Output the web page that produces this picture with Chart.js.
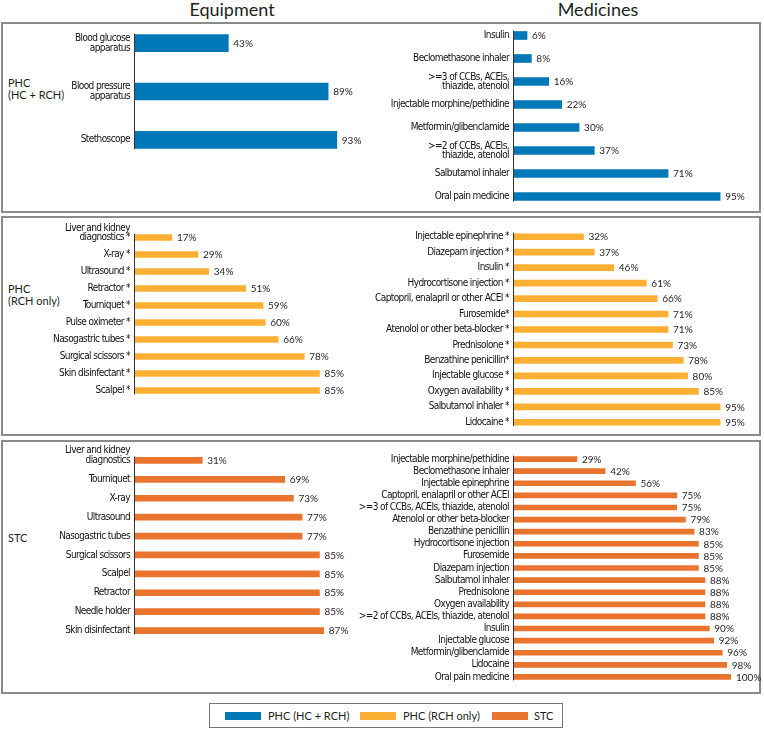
<!DOCTYPE html>
<html>
<head>
<meta charset="utf-8">
<script src="https://cdn.jsdelivr.net/npm/chart.js@4.4.1/dist/chart.umd.min.js"></script>
<style>
  body { margin: 0; width: 764px; height: 729px; position: relative; background: #fff; overflow: hidden;
         font-family: Lato, "Noto Sans", sans-serif; color: #231f20; }
  .box { position: absolute; left: 1px; width: 760px; border: 2px solid #8a8a8a; box-sizing: border-box; }
  .title { position: absolute; top: -2px; font-size: 18px; width: 200px; text-align: center; }
  .row { position: absolute; left: 8px; font-size: 11px; line-height: 12px; }
  canvas { position: absolute; }
  .legend { position: absolute; left: 209px; top: 703px; width: 354px; height: 25px; border: 1px solid #777;
            box-sizing: border-box; font-size: 11px; }
  .legend span { position: absolute; top: 5px; line-height: 13px; }
  .legend i { position: absolute; top: 8px; width: 36px; height: 8px; }
</style>
</head>
<body>
<div class="title" style="left:132px">Equipment</div>
<div class="title" style="left:498px">Medicines</div>

<div class="box" style="top:22px;height:191px"></div>
<div class="box" style="top:216px;height:220px"></div>
<div class="box" style="top:440px;height:254px"></div>

<div class="row" style="top:77px">PHC<br>(HC + RCH)</div>
<div class="row" style="top:283px">PHC<br>(RCH only)</div>
<div class="row" style="top:532px">STC</div>

<canvas id="eqHc" width="375" height="157" style="left:0;top:7px"></canvas>
<canvas id="medHc" width="424" height="196" style="left:340px;top:12px"></canvas>
<canvas id="eqRch" width="375" height="182" style="left:0;top:217px"></canvas>
<canvas id="medRch" width="424" height="213" style="left:340px;top:217px"></canvas>
<canvas id="eqStc" width="375" height="201" style="left:0;top:439px"></canvas>
<canvas id="medStc" width="424" height="242" style="left:340px;top:441px"></canvas>

<div class="legend">
  <i style="left:15px;background:#0077b6"></i><span style="left:58px">PHC (HC + RCH)</span>
  <i style="left:150px;background:#fbb034"></i><span style="left:193px">PHC (RCH only)</span>
  <i style="left:282px;background:#e8742f"></i><span style="left:324px">STC</span>
</div>

<script>
const BLUE = '#0077b6';
const YELLOW = '#fbb034';
const ORANGE = '#e8742f';

// PHC (HC + RCH)
const eqHcLabels = [["Blood glucose", "apparatus"], ["Blood pressure", "apparatus"], "Stethoscope"];
const eqHcValues = [43, 89, 93];
const medHcLabels = ["Insulin", "Beclomethasone inhaler", [">=3 of CCBs, ACEIs,", "thiazide, atenolol"],
  "Injectable morphine/pethidine", "Metformin/glibenclamide", [">=2 of CCBs, ACEIs,", "thiazide, atenolol"],
  "Salbutamol inhaler", "Oral pain medicine"];
const medHcValues = [6, 8, 16, 22, 30, 37, 71, 95];

// PHC (RCH only)
const eqRchLabels = [["Liver and kidney", "diagnostics *", ""], "X-ray *", "Ultrasound *", "Retractor *", "Tourniquet *",
  "Pulse oximeter *", "Nasogastric tubes *", "Surgical scissors *", "Skin disinfectant *", "Scalpel *"];
const eqRchValues = [17, 29, 34, 51, 59, 60, 66, 78, 85, 85];
const medRchLabels = ["Injectable epinephrine *", "Diazepam injection *", "Insulin *", "Hydrocortisone injection *",
  "Captopril, enalapril or other ACEI *", "Furosemide*", "Atenolol or other beta-blocker *", "Prednisolone *",
  "Benzathine penicillin*", "Injectable glucose *", "Oxygen availability *", "Salbutamol inhaler *", "Lidocaine *"];
const medRchValues = [32, 37, 46, 61, 66, 71, 71, 73, 78, 80, 85, 95, 95];

// STC
const eqStcLabels = [["Liver and kidney", "diagnostics", ""], "Tourniquet", "X-ray", "Ultrasound", "Nasogastric tubes",
  "Surgical scissors", "Scalpel", "Retractor", "Needle holder", "Skin disinfectant"];
const eqStcValues = [31, 69, 73, 77, 77, 85, 85, 85, 85, 87];
const medStcLabels = ["Injectable morphine/pethidine", "Beclomethasone inhaler", "Injectable epinephrine",
  "Captopril, enalapril or other ACEI", ">=3 of CCBs, ACEIs, thiazide, atenolol", "Atenolol or other beta-blocker",
  "Benzathine penicillin", "Hydrocortisone injection", "Furosemide", "Diazepam injection", "Salbutamol inhaler",
  "Prednisolone", "Oxygen availability", ">=2 of CCBs, ACEIs, thiazide, atenolol", "Insulin", "Injectable glucose",
  "Metformin/glibenclamide", "Lidocaine", "Oral pain medicine"];
const medStcValues = [29, 42, 56, 75, 75, 79, 83, 85, 85, 85, 88, 88, 88, 88, 90, 92, 96, 98, 100];

const labelFont = "'Liberation Sans Narrow', 'Arial Narrow', 'DejaVu Sans Condensed', sans-serif";

// squeeze the category labels a bit, the original uses a very narrow face
const narrowText = {
  id: 'narrowText',
  beforeDraw(chart) { chart.ctx.letterSpacing = '-0.6px'; },
};

// percent labels + short axis line from first to last bar
const valueLabels = {
  id: 'valueLabels',
  afterDatasetsDraw(chart) {
    const ctx = chart.ctx;
    const meta = chart.getDatasetMeta(0);
    const data = chart.data.datasets[0].data;
    ctx.save();
    ctx.letterSpacing = '0px';
    ctx.font = "10px Lato, 'Noto Sans', sans-serif";
    ctx.fillStyle = '#231f20';
    ctx.textBaseline = 'middle';
    meta.data.forEach((bar, i) => {
      ctx.fillText(data[i] + '%', bar.x + 5, bar.y + 0.5);
    });
    const first = meta.data[0];
    const last = meta.data[meta.data.length - 1];
    const x = Math.round(chart.chartArea.left) - 0.5;
    ctx.strokeStyle = '#333';
    ctx.lineWidth = 1;
    ctx.beginPath();
    ctx.moveTo(x, first.y - first.height / 2 - 1);
    ctx.lineTo(x, last.y + last.height / 2 + 1);
    ctx.stroke();
    ctx.restore();
  }
};

function createChart(id, labels, values, color, thickness, axisWidth, padRight, lineHeight) {
  return new Chart(document.getElementById(id), {
    type: 'bar',
    data: {
      labels: labels,
      datasets: [{ data: values, backgroundColor: color, barThickness: thickness }],
    },
    options: {
      indexAxis: 'y',
      responsive: false,
      animation: false,
      layout: { padding: { left: 0, right: padRight, top: 12, bottom: 0 } },
      plugins: { legend: { display: false }, tooltip: { enabled: false } },
      scales: {
        x: { display: false, min: 0, max: 100 },
        y: {
          grid: { display: false, drawTicks: false },
          border: { display: false },
          ticks: {
            autoSkip: false,
            padding: 5,
            color: '#111',
            font: { family: labelFont, size: 10, lineHeight: lineHeight },
          },
          afterFit(scale) {
            scale.width = axisWidth;
            scale.paddingTop = 0;
            scale.paddingBottom = 0;
          },
        },
      },
    },
    plugins: [narrowText, valueLabels],
  });
}

createChart('eqHc', eqHcLabels, eqHcValues, BLUE, 17, 135, 23, 1.0);
createChart('medHc', medHcLabels, medHcValues, BLUE, 8, 174, 33, 0.9);
createChart('eqRch', eqRchLabels, eqRchValues, YELLOW, 6, 135, 23, 0.95);
createChart('medRch', medRchLabels, medRchValues, YELLOW, 6, 174, 33, 1.0);
createChart('eqStc', eqStcLabels, eqStcValues, ORANGE, 6, 135, 23, 1.0);
createChart('medStc', medStcLabels, medStcValues, ORANGE, 5, 174, 33, 1.0);
</script>
</body>
</html>
